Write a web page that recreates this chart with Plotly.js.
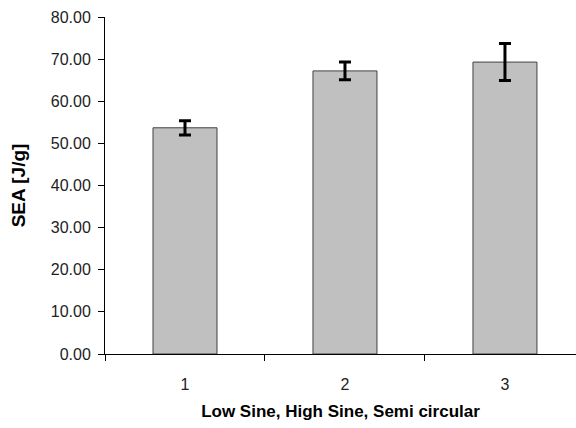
<!DOCTYPE html>
<html><head><meta charset="utf-8">
<script src="https://cdn.plot.ly/plotly-3.0.1.min.js"></script>
<style>html,body{margin:0;padding:0;background:#fff}</style>
</head><body>
<div id="chart" style="width:576px;height:428px"></div>
<script>
const categories = ["1", "2", "3"];
const seaValues = [53.7, 67.2, 69.3];
const seaErrors = [1.7, 2.1, 4.4];

Plotly.newPlot("chart", [{
  type: "bar",
  x: categories,
  y: seaValues,
  width: 0.4,
  marker: {color: "#c0c0c0", line: {color: "#404040", width: 1}},
  error_y: {type: "data", array: seaErrors, visible: true, color: "#000", thickness: 3, width: 6}
}], {
  width: 576, height: 428,
  margin: {l: 105, r: 0, t: 17, b: 74},
  paper_bgcolor: "#fff", plot_bgcolor: "#fff",
  font: {family: "Liberation Sans, Arial, sans-serif", size: 17, color: "#000"},
  showlegend: false,
  xaxis: {
    type: "category", range: [-0.5, 2.444], tickson: "boundaries",
    ticks: "outside", ticklen: 6, tickcolor: "#000",
    showline: true, linecolor: "#000", linewidth: 1, showgrid: false,
    tickfont: {size: 16, color: "#222"}, ticklabelstandoff: 16,
    title: {text: "<b>Low Sine, High Sine, Semi circular</b>", font: {size: 17}, standoff: 12}
  },
  yaxis: {
    range: [0, 80], dtick: 10, tickformat: ".2f",
    ticks: "outside", ticklen: 6, tickcolor: "#000",
    showline: true, linecolor: "#000", linewidth: 1, showgrid: false, zeroline: false,
    tickfont: {size: 16, color: "#222"}, ticklabelstandoff: 4,
    title: {text: "<b>SEA [J/g]</b>", font: {size: 19}, standoff: 20}
  }
}, {displayModeBar: false, staticPlot: true});
</script>
</body></html>
